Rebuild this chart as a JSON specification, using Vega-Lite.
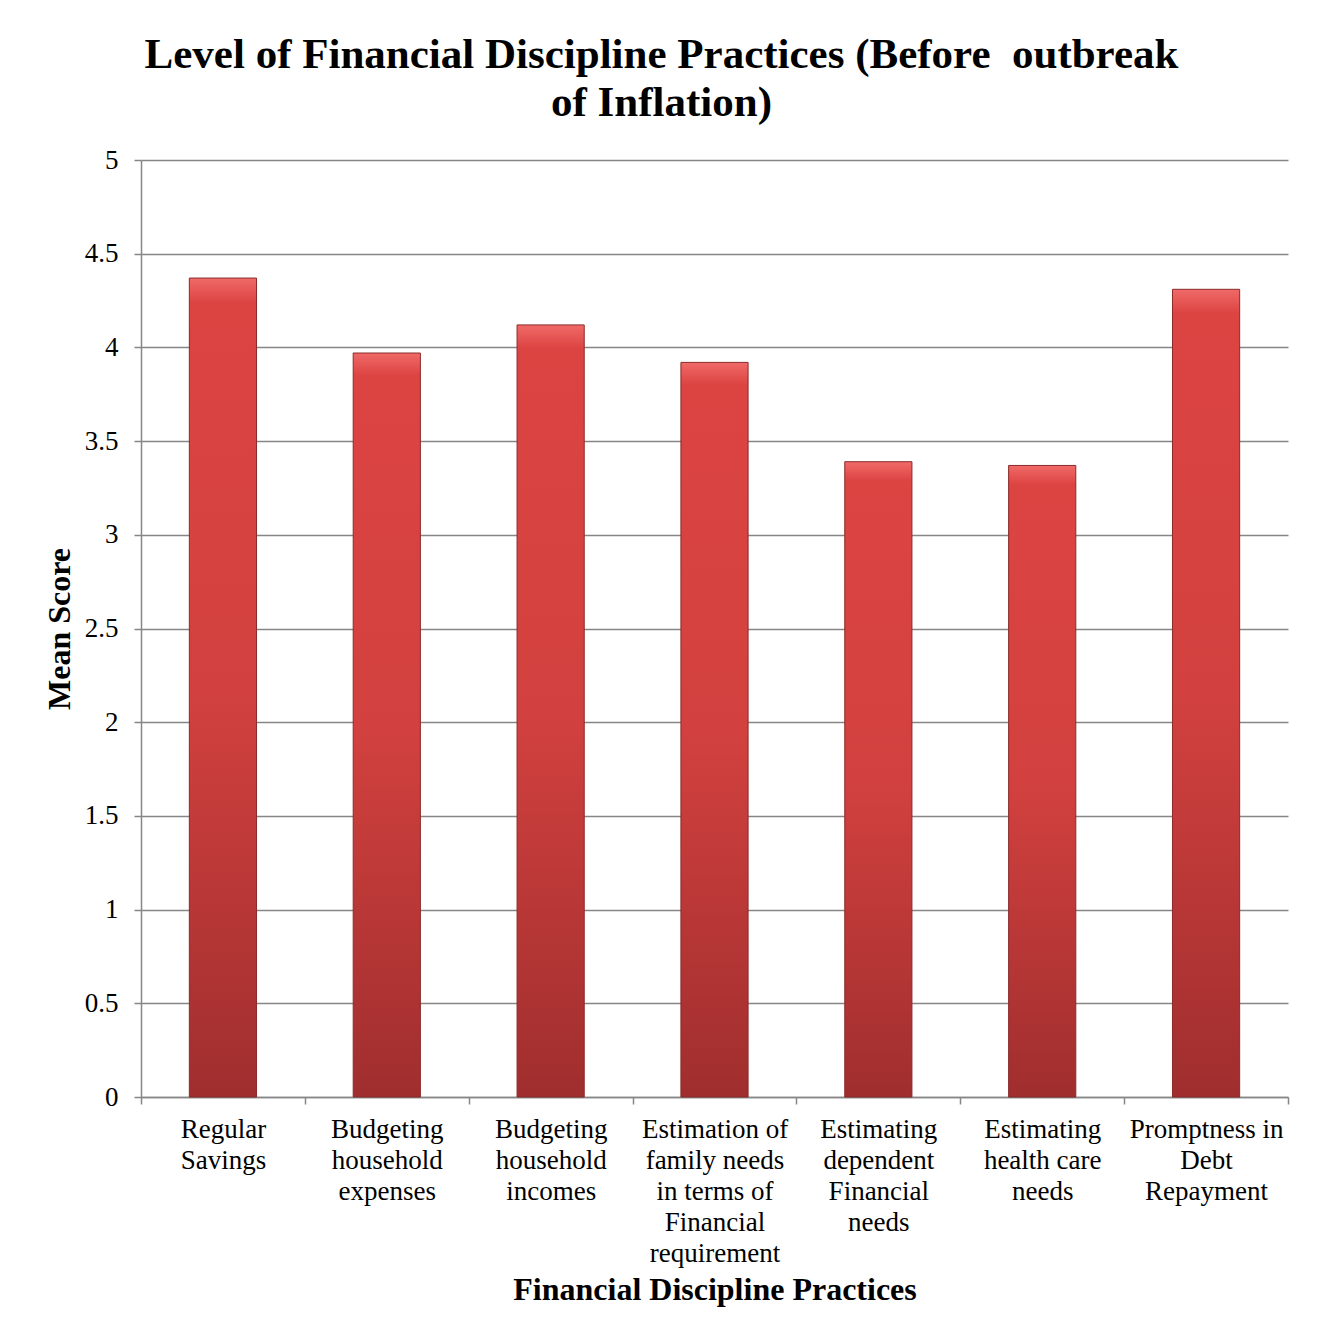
{
  "$schema": "https://vega.github.io/schema/vega-lite/v6.json",
  "autosize": {"type": "none"},
  "padding": {"left": 141, "top": 160, "right": 29, "bottom": 242},
  "width": 1147,
  "height": 937,
  "background": "white",
  "title": {
    "text": ["Level of Financial Discipline Practices (Before \u00a0outbreak", "of Inflation)"],
    "font": "Liberation Serif",
    "fontSize": 43,
    "fontWeight": "bold",
    "lineHeight": 48,
    "color": "black",
    "anchor": "middle",
    "dx": -53,
    "offset": 21
  },
  "data": {
    "values": [
      {"practice": "Regular Savings", "score": 4.37},
      {"practice": "Budgeting household expenses", "score": 3.97},
      {"practice": "Budgeting household incomes", "score": 4.12},
      {"practice": "Estimation of family needs in terms of Financial requirement", "score": 3.92},
      {"practice": "Estimating dependent Financial needs", "score": 3.39},
      {"practice": "Estimating health care needs", "score": 3.37},
      {"practice": "Promptness in Debt Repayment", "score": 4.31}
    ]
  },
  "mark": {
    "type": "bar",
    "width": {"band": 0.41},
    "stroke": "#8a2a2a",
    "strokeWidth": 1,
    "color": {
      "gradient": "linear",
      "x1": 0, "y1": 0, "x2": 0, "y2": 1,
      "stops": [
        {"offset": 0, "color": "#f06a68"},
        {"offset": 0.03, "color": "#dc4442"},
        {"offset": 0.5, "color": "#d2413f"},
        {"offset": 1, "color": "#a02e2e"}
      ]
    }
  },
  "encoding": {
    "x": {
      "field": "practice",
      "type": "nominal",
      "sort": null,
      "scale": {"paddingInner": 0, "paddingOuter": 0},
      "axis": {
        "title": "Financial Discipline Practices",
        "titleFont": "Liberation Serif",
        "titleFontSize": 32,
        "titleFontWeight": "bold",
        "titleColor": "black",
        "titlePadding": 8,
        "labelFont": "Liberation Serif",
        "labelFontSize": 27,
        "labelColor": "black",
        "labelLineHeight": 31,
        "labelAngle": 0,
        "labelPadding": 12,
        "labelBaseline": "top",
        "labelLimit": 0,
        "tickBand": "extent",
        "tickSize": 7,
        "tickColor": "#868686",
        "tickWidth": 1.5,
        "domainColor": "#868686",
        "domainWidth": 1.5,
        "grid": false,
        "labelExpr": "datum.value == 'Regular Savings' ? ['Regular', 'Savings'] : datum.value == 'Budgeting household expenses' ? ['Budgeting', 'household', 'expenses'] : datum.value == 'Budgeting household incomes' ? ['Budgeting', 'household', 'incomes'] : datum.value == 'Estimation of family needs in terms of Financial requirement' ? ['Estimation of', 'family needs', 'in terms of', 'Financial', 'requirement'] : datum.value == 'Estimating dependent Financial needs' ? ['Estimating', 'dependent', 'Financial', 'needs'] : datum.value == 'Estimating health care needs' ? ['Estimating', 'health care', 'needs'] : datum.value == 'Promptness in Debt Repayment' ? ['Promptness in', 'Debt', 'Repayment'] : ''"
      }
    },
    "y": {
      "field": "score",
      "type": "quantitative",
      "scale": {"domain": [0, 5], "nice": false},
      "axis": {
        "title": "Mean Score",
        "titleFont": "Liberation Serif",
        "titleFontSize": 32,
        "titleFontWeight": "bold",
        "titleColor": "black",
        "titlePadding": 8,
        "values": [0, 0.5, 1, 1.5, 2, 2.5, 3, 3.5, 4, 4.5, 5],
        "format": "~g",
        "labelFont": "Liberation Serif",
        "labelFontSize": 27,
        "labelColor": "black",
        "labelPadding": 16,
        "tickSize": 7,
        "tickColor": "#868686",
        "tickWidth": 1.5,
        "domainColor": "#868686",
        "domainWidth": 1.5,
        "grid": true,
        "gridColor": "#868686",
        "gridWidth": 1.5
      }
    }
  },
  "config": {
    "view": {"stroke": null}
  }
}
